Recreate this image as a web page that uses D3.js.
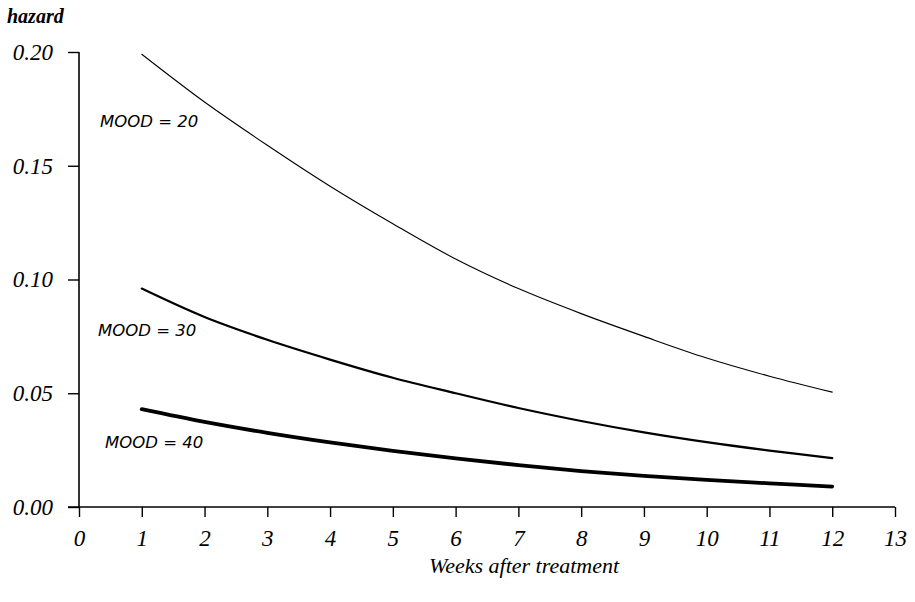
<!DOCTYPE html>
<html>
<head>
<meta charset="utf-8">
<script src="https://cdn.jsdelivr.net/npm/d3@7"></script>
<style>
  html, body { margin: 0; padding: 0; background: #fff; }
  svg { display: block; }
</style>
</head>
<body>
<div id="chart"></div>
<script>
const weeks = [1, 2, 3, 4, 5, 6, 7, 8, 9, 10, 11, 12];
const mood20 = [0.199, 0.178, 0.159, 0.141, 0.1245, 0.109, 0.096, 0.085, 0.075, 0.0655, 0.0575, 0.0505];
const mood30 = [0.096, 0.0835, 0.0735, 0.0648, 0.0568, 0.050, 0.0435, 0.0378, 0.0328, 0.0285, 0.0248, 0.0215];
const mood40 = [0.043, 0.0374, 0.0326, 0.0284, 0.0247, 0.0214, 0.0184, 0.0158, 0.0137, 0.0119, 0.0104, 0.009];
const seriesNames = ["MOOD = 20", "MOOD = 30", "MOOD = 40"];
const xTicks = [0, 1, 2, 3, 4, 5, 6, 7, 8, 9, 10, 11, 12, 13];
const yTicks = [0.00, 0.05, 0.10, 0.15, 0.20];
const yLabel = "hazard";
const xLabel = "Weeks after treatment";

const W = 915, H = 602;
const svg = d3.select("#chart").append("svg").attr("width", W).attr("height", H);

const x = d3.scaleLinear().domain([0, 13]).range([79, 895]);
const y = d3.scaleLinear().domain([0, 0.20]).range([507, 52]);

const serif = "'Liberation Serif', 'Times New Roman', serif";
const sans = "'DejaVu Sans', 'Liberation Sans', sans-serif";

// x axis
const xAxis = svg.append("g").attr("transform", `translate(0,${y(0)})`)
  .call(d3.axisBottom(x).tickValues(xTicks).tickSize(10).tickPadding(13).tickFormat(d3.format("d")));
xAxis.select(".domain").remove();
xAxis.append("line").attr("x1", 68).attr("x2", x(13)).attr("y1", 0).attr("y2", 0)
  .attr("stroke", "#000").attr("stroke-width", 1.6);
xAxis.selectAll(".tick line").attr("stroke", "#000").attr("stroke-width", 1.4);
xAxis.selectAll(".tick text").attr("fill", "#000").attr("font-family", serif)
  .attr("font-style", "italic").attr("font-size", 23);

// y axis
const yAxis = svg.append("g").attr("transform", `translate(${x(0)},0)`)
  .call(d3.axisLeft(y).tickValues(yTicks).tickSize(11).tickPadding(15).tickFormat(d3.format(".2f")));
yAxis.select(".domain").remove();
yAxis.append("line").attr("x1", 0).attr("x2", 0).attr("y1", y(0.20)).attr("y2", y(0))
  .attr("stroke", "#000").attr("stroke-width", 1.6);
yAxis.selectAll(".tick line").attr("stroke", "#000").attr("stroke-width", 1.4);
yAxis.selectAll(".tick text").attr("fill", "#000").attr("font-family", serif)
  .attr("font-style", "italic").attr("font-size", 23);

// axis titles
svg.append("text").attr("x", 7).attr("y", 23).text(yLabel)
  .attr("font-family", serif).attr("font-style", "italic").attr("font-weight", "bold")
  .attr("font-size", 20).attr("fill", "#000");
svg.append("text").attr("x", 524).attr("y", 573).attr("text-anchor", "middle").text(xLabel)
  .attr("font-family", serif).attr("font-style", "italic")
  .attr("font-size", 22).attr("fill", "#000");

// curves
const line = d3.line().x((d, i) => x(weeks[i])).y(d => y(d)).curve(d3.curveCatmullRom);
const allSeries = [mood20, mood30, mood40];
const widths = [1.1, 2.2, 3.8];
svg.selectAll("path.curve").data(allSeries).enter().append("path")
  .attr("class", "curve")
  .attr("d", d => line(d))
  .attr("fill", "none").attr("stroke", "#000")
  .attr("stroke-width", (d, i) => widths[i])
  .attr("stroke-linecap", "round");

// series labels
const labelPos = [[100, 127], [98, 336], [105, 448]];
svg.selectAll("text.slabel").data(seriesNames).enter().append("text")
  .attr("class", "slabel")
  .attr("x", (d, i) => labelPos[i][0]).attr("y", (d, i) => labelPos[i][1])
  .text(d => d)
  .attr("font-family", sans).attr("font-style", "italic")
  .attr("font-size", 16.5).attr("fill", "#000");
</script>
</body>
</html>
